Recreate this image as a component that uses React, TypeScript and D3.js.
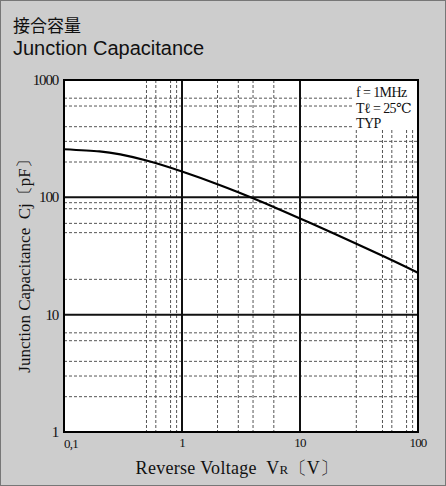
import React from 'react';
import * as d3 from 'd3';

// values
const voltage = [0.1, 0.2, 0.3, 0.5, 1, 2, 3, 5, 10, 20, 50, 100];
const capacitance = [257, 246.5, 232, 206, 166, 129.5, 110.5, 89.5, 66, 48.5, 31.8, 22.8];

const xTicks = [0.1, 1, 10, 100];
const xTickLabels = ['0,1', '1', '10', '100'];
const yTicks = [1, 10, 100, 1000];
const yTickLabels = ['1', '10', '100', '1000'];

const xMajor = [1, 10];
const yMajor = [10, 100];
const xMinor = [0.5, 0.6, 0.8, 0.9, 2, 3, 4, 6, 30, 50, 60, 80, 90];
const yMinor = [2, 3, 4, 6, 7, 20, 50, 60, 80, 90, 200, 300, 400, 600, 700];

const conditions = ['f = 1MHz', 'Tℓ = 25℃', 'TYP'];

const W = 446;
const H = 486;
const plot = { left: 64, right: 418, top: 80, bottom: 432 };
const serif = '"Liberation Serif", "DejaVu Serif", serif';
const sans = '"Liberation Sans", Arial, sans-serif';

export default function App() {
  const x = d3.scaleLog().domain([0.1, 100]).range([plot.left, plot.right]);
  const y = d3.scaleLog().domain([1, 1000]).range([plot.bottom, plot.top]);

  const pts = voltage.map((v, i) => [v, capacitance[i]] as [number, number]);
  const line = d3.line<[number, number]>()
    .x(d => x(d[0]))
    .y(d => y(d[1]))
    .curve(d3.curveNatural);

  const grid = '#555';
  const dash = '3 2';

  return (
    <svg width={W} height={H} style={{ position: 'absolute', left: 0, top: 0 }}>
      <rect x={0.5} y={0.5} width={W - 1} height={H - 1} fill="#cdcdcd" stroke="#777" />
      <text x={13} y={32} fontFamily='"Noto Sans CJK JP", sans-serif' fontSize={17} fill="#111">接合容量</text>
      <text x={13} y={55} fontFamily={sans} fontSize={20} fill="#111">Junction Capacitance</text>

      <rect x={plot.left} y={plot.top} width={plot.right - plot.left} height={plot.bottom - plot.top} fill="#fff" />

      {xMinor.map(v => (
        <line key={'xm' + v} x1={x(v)} x2={x(v)} y1={plot.top} y2={plot.bottom}
          stroke={grid} strokeWidth={1} strokeDasharray={dash} />
      ))}
      {yMinor.map(v => (
        <line key={'ym' + v} x1={plot.left} x2={plot.right} y1={y(v)} y2={y(v)}
          stroke={grid} strokeWidth={1} strokeDasharray={dash} />
      ))}

      {/* white box behind the conditions */}
      <rect x={352} y={plot.top} width={plot.right - 352} height={50} fill="#fff" />
      {conditions.map((t, i) => (
        <text key={t} x={356} y={97 + i * 15.5} fontFamily={serif} fontSize={14} fill="#111"
          letterSpacing={-0.6}>{t}</text>
      ))}

      {xMajor.map(v => (
        <line key={'xM' + v} x1={x(v)} x2={x(v)} y1={plot.top} y2={plot.bottom} stroke="#111" strokeWidth={2} />
      ))}
      {yMajor.map(v => (
        <line key={'yM' + v} x1={plot.left} x2={plot.right} y1={y(v)} y2={y(v)} stroke="#111" strokeWidth={2} />
      ))}

      <path d={line(pts) || ''} fill="none" stroke="#000" strokeWidth={2.2} />

      <rect x={plot.left} y={plot.top} width={plot.right - plot.left} height={plot.bottom - plot.top}
        fill="none" stroke="#000" strokeWidth={2} />

      {yTicks.map((v, i) => (
        <text key={'yt' + v} x={58} y={y(v) + 5} textAnchor="end"
          fontFamily={serif} fontSize={15} fill="#111" letterSpacing={-1.2}>{yTickLabels[i]}</text>
      ))}
      {xTicks.map((v, i) => (
        <text key={'xt' + v} x={x(v)} y={i === 0 ? 448 : 447}
          textAnchor={i === 0 ? 'start' : 'middle'}
          fontFamily={serif} fontSize={13} fill="#111" letterSpacing={-0.8}>{xTickLabels[i]}</text>
      ))}

      <text x={237} y={474} textAnchor="middle" fontFamily={serif} fontSize={18} fill="#111" letterSpacing={0.3}>
        Reverse Voltage{'\u2002'}V<tspan fontSize={13}>R</tspan>〔V〕
      </text>
      <text transform="translate(30,262) rotate(-90)" textAnchor="middle" fontFamily={serif} fontSize={17} fill="#111">
        Junction Capacitance{'\u2002'}Cj〔pF〕
      </text>
    </svg>
  );
}
